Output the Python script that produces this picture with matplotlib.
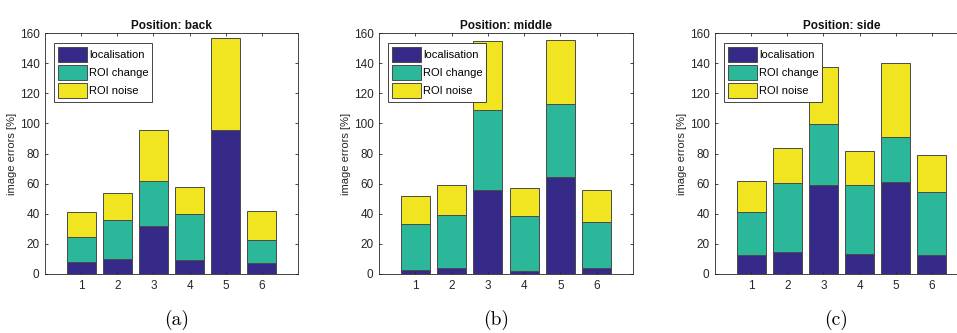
import matplotlib.pyplot as plt
import numpy as np

plt.rcParams['font.family'] = ['Liberation Sans', 'DejaVu Sans']

# stacked components per position (bars 1..6)
bars = [1, 2, 3, 4, 5, 6]
series_names = ["localisation", "ROI change", "ROI noise"]
colors = ["#352a87", "#2bb89a", "#f0e520"]

titles = ["Position: back", "Position: middle", "Position: side"]
captions = ["(a)", "(b)", "(c)"]

# cumulative tops
back_loc = [8.0, 10.2, 31.8, 9.1, 95.7, 7.3]
back_change = [24.5, 35.6, 61.7, 39.8, 95.7, 22.8]
back_noise = [41.3, 54.1, 95.7, 57.5, 156.9, 41.8]

middle_loc = [2.9, 4.2, 55.9, 2.2, 64.1, 3.8]
middle_change = [32.9, 39.3, 109.2, 38.2, 112.9, 34.3]
middle_noise = [51.5, 58.8, 154.5, 57.2, 155.4, 55.5]

side_loc = [12.6, 14.8, 59.0, 13.0, 61.2, 12.6]
side_change = [40.9, 60.6, 99.7, 59.4, 91.0, 54.6]
side_noise = [61.7, 83.5, 137.2, 81.5, 139.9, 79.1]

panels = [
    (back_loc, back_change, back_noise),
    (middle_loc, middle_change, middle_noise),
    (side_loc, side_change, side_noise),
]

W, H = 957, 333
fig = plt.figure(figsize=(W / 100, H / 100), dpi=100)

# axes positions in pixels: left, top, right, bottom
boxes = [(45, 33, 298, 274), (379, 33, 633, 274), (715, 33, 968, 274)]
caption_x = [177, 496, 836]

for i, (loc, change, noise) in enumerate(panels):
    l, t, r, b = boxes[i]
    ax = fig.add_axes([l / W, 1 - b / H, (r - l) / W, (b - t) / H])
    x = np.array(bars)
    loc = np.array(loc)
    change = np.array(change)
    noise = np.array(noise)
    heights = [loc, change - loc, noise - change]
    bottoms = [np.zeros(len(x)), loc, change]
    for k in range(3):
        ax.bar(x, heights[k], bottom=bottoms[k], width=0.8, color=colors[k],
               edgecolor="#4a4a4a", linewidth=0.7, label=series_names[k])
    ax.set_xlim(0, 7)
    ax.set_ylim(0, 160)
    ax.set_xticks(bars)
    ax.set_yticks(np.arange(0, 161, 20))
    ax.tick_params(direction="in", top=True, right=True, length=2.5, width=0.6,
                   labelsize=8.5, colors="#262626", pad=4)
    for sp in ax.spines.values():
        sp.set_color("#262626")
        sp.set_linewidth(0.6)
    ax.set_ylabel("image errors [%]", fontsize=8, color="#262626", labelpad=2)
    ax.set_title(titles[i], fontsize=8.5, fontweight="bold", color="#111111", pad=3)
    leg = ax.legend(loc="upper left", bbox_to_anchor=(0.035, 0.96), fontsize=8,
                    handlelength=2.6, handleheight=1.75, handletextpad=0.2,
                    labelspacing=0.25, borderpad=0.35, borderaxespad=0,
                    fancybox=False, framealpha=1, edgecolor="#262626")
    leg.get_frame().set_linewidth(0.6)
    fig.text(caption_x[i] / W, 1 - 320 / H, captions[i], family="cmr10",
             fontsize=14, ha="center", va="center")

plt.savefig("out.png", dpi=100)
